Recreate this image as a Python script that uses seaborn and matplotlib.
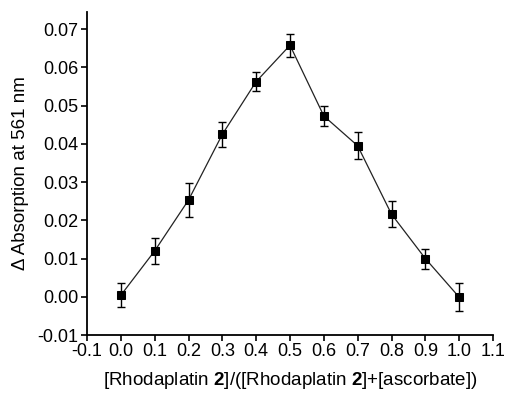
import matplotlib
matplotlib.use("Agg")
import matplotlib.pyplot as plt
import numpy as np
import pandas as pd
import seaborn as sns

# mole fraction (Job plot) data
fraction = [0.0, 0.1, 0.2, 0.3, 0.4, 0.5, 0.6, 0.7, 0.8, 0.9, 1.0]
delta_abs = [0.0004, 0.0120, 0.0253, 0.0425, 0.0563, 0.0658, 0.0473, 0.0395, 0.0216, 0.0100, -0.0001]
abs_err = [0.0032, 0.0034, 0.0045, 0.0032, 0.0024, 0.0030, 0.0025, 0.0035, 0.0034, 0.0026, 0.0036]

xticks = np.round(np.arange(-0.1, 1.11, 0.1), 1)
yticks = np.round(np.arange(-0.01, 0.071, 0.01), 2)

sns.set_style("ticks")
plt.rcParams['font.family'] = ['Liberation Sans', 'DejaVu Sans']
plt.rcParams['mathtext.fontset'] = 'custom'
plt.rcParams['mathtext.rm'] = 'Liberation Sans'
plt.rcParams['mathtext.bf'] = 'Liberation Sans:bold'

df = pd.DataFrame({"x": fraction, "y": delta_abs, "err": abs_err})

fig = plt.figure(figsize=(5.07, 3.96), dpi=100)
ax = fig.add_axes([0.1716, 0.154, 0.8008, 0.8157])

sns.lineplot(data=df, x="x", y="y", ax=ax, color="#222222", linewidth=0.9,
             marker="s", markersize=6.3, markerfacecolor="black",
             markeredgecolor="black", zorder=3)
ax.errorbar(df["x"], df["y"], yerr=df["err"], fmt="none", ecolor="black",
            elinewidth=1.0, capsize=3, capthick=1.0, zorder=2)

ax.set_xlim(-0.1, 1.1)
ax.set_ylim(-0.01, 0.0745)
ax.set_xticks(xticks)
ax.set_xticklabels([f"{v:.1f}" for v in xticks])
ax.set_yticks(yticks)
ax.set_yticklabels([f"{v:.2f}" for v in yticks])

for s in ["top", "right"]:
    ax.spines[s].set_visible(False)
for s in ["left", "bottom"]:
    ax.spines[s].set_linewidth(1.3)
    ax.spines[s].set_color("black")

ax.tick_params(axis="both", direction="out", length=4, width=1.2,
               labelsize=13, colors="black", pad=2)

ax.set_xlabel(r"[Rhodaplatin $\mathbf{2}$]/([Rhodaplatin $\mathbf{2}$]+[ascorbate])",
              fontsize=13.5, labelpad=7, color="black")
ax.set_ylabel("\u0394 Absorption at 561 nm", fontsize=13.5, labelpad=6,
              color="black")

fig.savefig("out.png", dpi=100)
